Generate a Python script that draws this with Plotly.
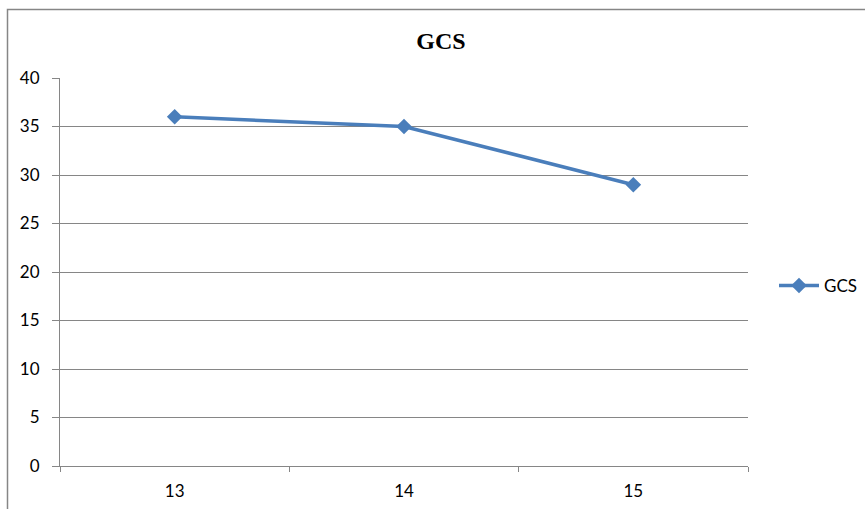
import plotly.graph_objects as go

categories = ["13", "14", "15"]
gcs_values = [36, 35, 29]
y_ticks = [0, 5, 10, 15, 20, 25, 30, 35, 40]

fig = go.Figure()
fig.add_trace(go.Scatter(
    x=categories, y=gcs_values, mode="lines+markers", name="GCS",
    line=dict(color="#4A7EBB", width=3.5),
    marker=dict(symbol="diamond", size=12, color="#4A7EBB"),
))

L, R, T, B = 60, 748, 78, 466
W, H = R - L, B - T

fig.update_layout(
    width=865, height=509,
    margin=dict(l=L, r=865 - R, t=T, b=509 - B, autoexpand=False),
    paper_bgcolor="white", plot_bgcolor="white",
    title=dict(text="<b>GCS</b>", x=441 / 865, xanchor="center", y=1 - 41 / 509, yanchor="middle",
               font=dict(family="Liberation Serif", size=24, color="black")),
    font=dict(family="Lato", size=17, color="black"),
    showlegend=True,
    legend=dict(x=(774 - L) / W, xanchor="left", y=(B - 286) / H, yanchor="middle",
                font=dict(family="Lato", size=17, color="black"), bgcolor="rgba(0,0,0,0)",
                itemwidth=40),
    xaxis=dict(type="category", tickson="boundaries", ticks="outside", ticklen=5, tickcolor="#868686",
               showline=True, linecolor="#868686", linewidth=1, showgrid=False, range=[-0.5, 2.5],
               automargin=False, ticklabelstandoff=10,
               tickfont=dict(family="Lato", size=17)),
    yaxis=dict(range=[0, 40], tickvals=y_ticks, ticks="outside", ticklen=7, tickcolor="#868686",
               showline=True, linecolor="#868686", linewidth=1, showgrid=True, gridcolor="#868686",
               gridwidth=1, zeroline=False, automargin=False, ticklabelstandoff=9,
               tickfont=dict(family="Lato", size=17)),
    shapes=[dict(type="rect", xref="paper", yref="paper",
                 x0=(7.5 - L) / W, x1=(880 - L) / W, y0=(B - 520) / H, y1=(B - 9.5) / H,
                 line=dict(color="#868686", width=1.5), fillcolor="rgba(0,0,0,0)", layer="below")],
)

fig.write_html("out.html", config={"displayModeBar": False},
               post_script="document.body.style.margin='0';")
